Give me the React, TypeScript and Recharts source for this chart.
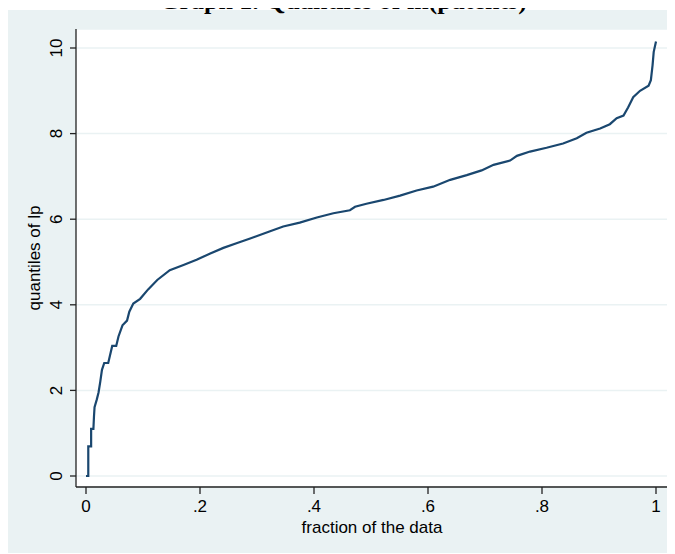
import React from 'react'
import { LineChart, Line, XAxis, YAxis, CartesianGrid } from 'recharts'

// fraction of the data (x) and quantiles of lp (y)
const fractions = [
  0.0, 0.004, 0.004, 0.009, 0.009, 0.013, 0.014, 0.015, 0.019, 0.022, 0.025, 0.028, 0.032, 0.039,
  0.046, 0.053, 0.057, 0.064, 0.072, 0.076, 0.083, 0.095, 0.109, 0.125, 0.147, 0.171, 0.194, 0.218,
  0.241, 0.264, 0.288, 0.323, 0.346, 0.375, 0.405, 0.434, 0.463, 0.472, 0.492, 0.522, 0.551, 0.58,
  0.609, 0.639, 0.668, 0.694, 0.715, 0.744, 0.756, 0.779, 0.808, 0.837, 0.861, 0.878, 0.902, 0.919,
  0.931, 0.943, 0.951, 0.96, 0.972, 0.987, 0.991, 0.994, 0.996, 1.0,
]
const quantiles = [
  0, 0, 0.69, 0.69, 1.1, 1.1, 1.39, 1.61, 1.79, 1.95, 2.2, 2.48, 2.64, 2.64,
  3.04, 3.04, 3.26, 3.52, 3.63, 3.84, 4.03, 4.14, 4.36, 4.58, 4.81, 4.93, 5.05, 5.2,
  5.33, 5.44, 5.55, 5.72, 5.83, 5.92, 6.04, 6.14, 6.21, 6.29, 6.36, 6.45, 6.55, 6.67,
  6.76, 6.92, 7.03, 7.14, 7.27, 7.37, 7.48, 7.58, 7.67, 7.77, 7.89, 8.02, 8.12, 8.22,
  8.36, 8.42, 8.61, 8.85, 9.0, 9.12, 9.25, 9.6, 9.91, 10.15,
]
const xTicks = [0, 0.2, 0.4, 0.6, 0.8, 1]
const xTickLabels = ['0', '.2', '.4', '.6', '.8', '1']
const yTicks = [0, 2, 4, 6, 8, 10]

const data = fractions.map((f, i) => ({ f, q: quantiles[i] }))

const PANEL = '#eaf2f3'
const LINE = '#1a476f'
const FONT = '"Liberation Sans", Arial, sans-serif'

function YTick({ x, y, payload }: { x?: number; y?: number; payload?: { value: number } }) {
  const bx = (x ?? 0) - 8
  return (
    <text
      x={bx}
      y={y}
      transform={`rotate(-90 ${bx} ${y})`}
      textAnchor="middle"
      fontSize={17}
      fontFamily={FONT}
      fill="#000"
    >
      {payload?.value}
    </text>
  )
}

export default function App() {
  return (
    <div style={{ position: 'relative', width: 667, height: 545 }}>
      <div style={{ position: 'absolute', left: 0, top: 2, width: 667, height: 543, background: PANEL }}>
        <LineChart
          width={667}
          height={543}
          data={data}
          margin={{ top: 19, right: 6, left: 0, bottom: 0 }}
        >
          <CartesianGrid
            vertical={false}
            fill="#fff"
            stroke={PANEL}
            strokeWidth={1.5}
          />
          <XAxis
            dataKey="f"
            type="number"
            domain={[-0.01754, 1.02281]}
            allowDataOverflow
            ticks={xTicks}
            tickFormatter={(v: number) => xTickLabels[xTicks.indexOf(v)] ?? String(v)}
            height={66}
            tickSize={7}
            tickMargin={6}
            stroke="#222"
            strokeWidth={1.3}
            tick={{ fontSize: 17, fontFamily: FONT, fill: '#000' }}
          />
          <YAxis
            dataKey="q"
            type="number"
            domain={[-0.257, 10.444]}
            allowDataOverflow
            ticks={yTicks}
            width={68}
            tickSize={6}
            tickMargin={0}
            stroke="#222"
            strokeWidth={1.3}
            tick={<YTick />}
          />
          <Line
            type="linear"
            dataKey="q"
            stroke={LINE}
            strokeWidth={2.2}
            dot={false}
            isAnimationActive={false}
          />
        </LineChart>
      </div>
      <svg
        width={667}
        height={545}
        style={{ position: 'absolute', left: 0, top: 0, overflow: 'visible', pointerEvents: 'none' }}
      >
        <text
          x={335}
          y={1}
          textAnchor="middle"
          fontSize={26}
          fontWeight="bold"
          fontFamily='"Liberation Serif", "Times New Roman", serif'
          fill="#000"
        >
          Graph 1. Quantiles of ln(patents)
        </text>
        <text
          x={32}
          y={250}
          transform="rotate(-90 32 250)"
          textAnchor="middle"
          fontSize={17}
          fontFamily={FONT}
          fill="#000"
        >
          quantiles of lp
        </text>
        <text x={364} y={525} textAnchor="middle" fontSize={17} fontFamily={FONT} fill="#000">
          fraction of the data
        </text>
      </svg>
    </div>
  )
}
